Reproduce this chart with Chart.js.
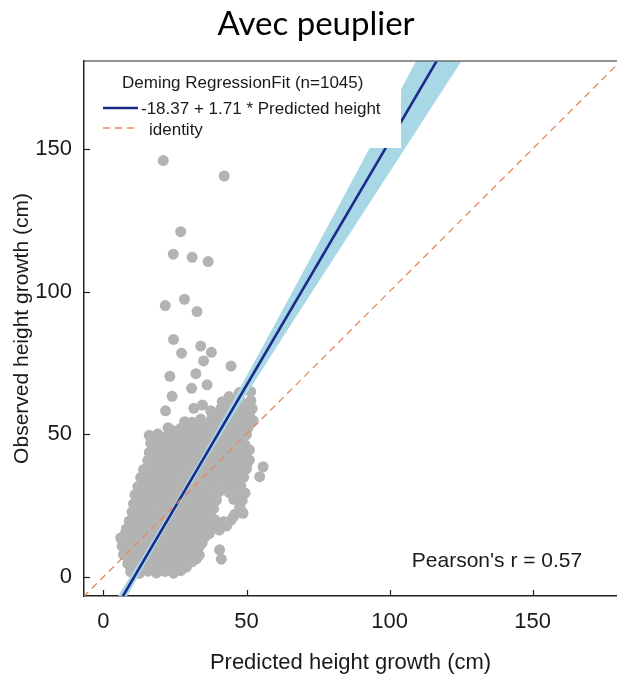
<!DOCTYPE html>
<html><head><meta charset="utf-8">
<script src="https://cdn.jsdelivr.net/npm/chart.js@4.4.1/dist/chart.umd.min.js"></script>
<style>html,body{margin:0;padding:0;background:#fff;}#wrap{width:617px;height:677px;position:relative;}</style>
</head><body><div id="wrap"><canvas id="c" width="617" height="677"></canvas></div>
<script>
// ---------- text ----------
const titleText = 'Avec peuplier';
const legendTitle = 'Deming RegressionFit (n=1045)';
const fitLabel = '-18.37 + 1.71 * Predicted height';
const identityLabel = 'identity';
const pearsonLabel = "Pearson's r = 0.57";
const xTitle = 'Predicted height growth (cm)';
const yTitle = 'Observed height growth (cm)';

// ---------- axes ----------
const xTicks = [0, 50, 100, 150];
const yTicks = [0, 50, 100, 150];
const xRange = [-6.8, 179.5];
const yRange = [-6.7, 180.8];

// ---------- fit ----------
const fitIntercept = -18.37;
const fitSlope = 1.71;
const fitX = [-10, 130];
const identityX = [-10, 190];

// confidence band
const bandX     = [4, 15, 25, 35, 45, 55, 65, 80, 100, 120, 135];
const bandLower = [-14.5, 5.3, 22.8, 39.7, 56.0, 71.9, 87.6, 110.9, 141.8, 172.8, 196.0];
const bandUpper = [-8.5, 9.3, 26.0, 43.3, 61.2, 79.5, 98.0, 125.9, 163.4, 200.8, 229.0];

// ---------- observations (predicted, observed) ----------
const predicted = [
 9.5,12.5,15.5,18.5,21.5,24.5,27,
 8.5,10.5,13.5,16.5,19.5,22.5,25.5,28.5,31,
 7,10,13,16,19,22,25,28,31,33.5,41.2,40.6,
 6.5,9.5,12.5,15.5,18.5,21.5,24.5,27.5,30.5,33.5,
 6,9,12,15,18,21,24,27,30,33,35.5,
 8,11,14,17,20,23,26,29,32,35,38,40.5,
 9,12,15,18,21,24,27,30,33,36,39,42,44.5,
 10,13,16,19,22,25,28,31,34,37,46,48.8,
 10.5,13.5,16.5,19.5,22.5,25.5,28.5,31.5,34.5,37.5,47.6,
 11,14,17,20,23,26,29,32,35,38,44,47,49.5,
 12,15,18,21,24,27,30,33,36,39,42,45,48,
 13,16,19,22,25,28,31,34,37,40,43,46,49,54.6,
 14,17,20,23,26,29,32,35,38,41,44,47,50,55.8,
 15.5,18.5,21.5,24.5,27.5,30.5,33.5,36.5,39.5,42.5,45.5,48.5,51,
 16,19,22,25,28,31,34,37,40,43,46,49,51,
 16.5,19.5,22.5,25.5,28.5,31.5,34.5,37.5,40.5,43.5,46.5,49.5,
 16,19,22,25.5,29,32,35,38,41,44,47,50,
 22.6,27,30,33,36,39,42,45,48,50.5,
 28.4,34,38,41,44,47,50,52.3,
 37.5,41,44,47,50,52,
 41.5,45,48,51.5,
 47.5,51.5,
 11,14,17,20,23,26,29,
 9,12,15,18,21,24,27,30,32.5,
 8.5,11.5,14.5,17.5,20.5,23.5,26.5,29.5,32.5,
 7.5,10.5,13.5,16.5,19.5,22.5,25.5,28.5,31.5,34.5,
 7.5,10.5,13.5,16.5,19.5,22.5,25.5,28.5,31.5,34.5,37,
 9.5,12.5,15.5,18.5,21.5,24.5,27.5,30.5,33.5,36.5,39.5,43,
 10.5,13.5,16.5,19.5,22.5,25.5,28.5,31.5,34.5,37.5,45.5,
 11.5,14.5,17.5,20.5,23.5,26.5,29.5,32.5,35.5,38.5,48,
 12.5,15.5,18.5,21.5,24.5,27.5,30.5,33.5,36.5,39.5,45.5,48.5,
 13.5,16.5,19.5,22.5,25.5,28.5,31.5,34.5,37.5,40.5,43.5,46.5,
 14.5,17.5,20.5,23.5,26.5,29.5,32.5,35.5,38.5,41.5,44.5,47.5,
 15.5,18.5,21.5,24.5,27.5,30.5,33.5,36.5,39.5,42.5,45.5,48.5,
 17,20,23,26,29,32,35,38,41,44,47,50,
 17.5,20.5,23.5,26.5,29.5,32.5,35.5,38.5,41.5,44.5,47.5,50,
 18,21,24,27,30,33,36,39,42,45,48,
 18,21,24,27,30,33,36,39,42,45,48,
 24.5,28.5,31.5,34.5,37.5,40.5,43.5,46.5,49.5,
 31,36,39.5,42.5,45.5,48.5,51,
 39.5,42.5,45.5,48.5,51,
 43,46.5,50,
 20.9,42.2,27.0,24.4,31.0,36.6,28.3,21.6,32.7,24.5,34.0,27.3,37.7,35.0,44.6,23.2,32.3,30.8,36.2,24.0,43.9,21.7,31.6,34.6
];
const observed = [
 1.8,1.2,2.0,1.4,1.9,1.3,2.2,
 4.6,4.0,5.0,4.3,4.8,4.1,5.1,4.4,5.3,
 7.8,7.2,8.0,7.4,7.9,7.1,8.1,7.5,8.2,7.6,6.2,9.5,
 10.8,10.2,11.0,10.4,10.9,10.1,11.1,10.5,11.2,10.6,
 13.6,13.1,14.0,13.3,13.9,13.2,14.1,13.4,14.2,13.5,14.0,
 16.8,16.2,17.0,16.4,16.9,16.1,17.1,16.5,17.2,16.6,17.0,16.4,
 19.6,19.1,20.0,19.3,19.9,19.2,20.1,19.4,20.2,19.5,20.0,19.3,19.8,
 22.8,22.2,23.0,22.4,22.9,22.1,23.1,22.5,23.2,22.6,22.0,22.3,
 25.6,25.1,26.0,25.3,25.9,25.2,26.1,25.4,26.2,25.5,24.6,
 28.8,28.2,29.0,28.4,28.9,28.1,29.1,28.5,29.2,28.6,29.5,28.8,29.4,
 31.6,31.1,32.0,31.3,31.9,31.2,32.1,31.4,32.2,31.5,32.0,31.3,31.9,
 34.8,34.2,35.0,34.4,34.9,34.1,35.1,34.5,35.2,34.6,35.0,34.3,34.9,35.1,
 37.6,37.1,38.0,37.3,37.9,37.2,38.1,37.4,38.2,37.5,38.0,37.3,37.9,38.6,
 40.8,40.2,41.0,40.4,40.9,40.1,41.1,40.5,41.2,40.6,41.0,40.3,40.9,
 43.6,43.1,44.0,43.3,43.9,43.2,44.1,43.4,44.2,43.5,44.0,43.3,44.5,
 46.8,46.2,47.0,46.4,46.9,46.1,47.1,46.5,47.2,46.6,47.0,46.3,
 49.6,50.1,49.2,49.9,49.3,50.2,49.5,50.1,49.4,50.0,49.3,49.9,
 52.3,52.0,52.8,52.2,52.9,52.3,53.0,52.4,52.9,52.2,
 54.4,55.3,55.8,55.2,55.9,55.3,55.8,54.8,
 58.2,58.8,58.3,58.9,58.4,59.0,
 61.4,61.9,61.3,61.8,
 64.6,64.9,
 3.1,2.8,3.3,2.9,3.2,2.7,3.4,
 6.2,5.8,6.3,5.9,6.1,5.7,6.4,6.0,6.3,
 9.1,8.8,9.3,8.9,9.2,8.7,9.4,9.0,9.3,
 12.2,11.8,12.3,11.9,12.1,11.7,12.4,12.0,12.3,11.9,
 15.1,14.8,15.3,14.9,15.2,14.7,15.4,15.0,15.3,14.9,15.2,
 18.2,17.8,18.3,17.9,18.1,17.7,18.4,18.0,18.3,17.9,18.2,17.8,
 21.1,20.8,21.3,20.9,21.2,20.7,21.4,21.0,21.3,20.9,21.2,
 24.2,23.8,24.3,23.9,24.1,23.7,24.4,24.0,24.3,23.9,23.6,
 27.1,26.8,27.3,26.9,27.2,26.7,27.4,27.0,27.3,26.9,27.2,26.8,
 30.2,29.8,30.3,29.9,30.1,29.7,30.4,30.0,30.3,29.9,30.2,29.8,
 33.1,32.8,33.3,32.9,33.2,32.7,33.4,33.0,33.3,32.9,33.2,32.8,
 36.2,35.8,36.3,35.9,36.1,35.7,36.4,36.0,36.3,35.9,36.2,35.8,
 39.1,38.8,39.3,38.9,39.2,38.7,39.4,39.0,39.3,38.9,39.2,38.8,
 42.2,41.8,42.3,41.9,42.1,41.7,42.4,42.0,42.3,41.9,42.2,41.8,
 45.1,44.8,45.3,44.9,45.2,44.7,45.4,45.0,45.3,44.9,45.2,
 48.2,47.8,48.3,47.9,48.1,47.7,48.4,48.0,48.3,47.9,48.2,
 51.1,50.8,51.3,50.9,51.2,50.7,51.4,51.0,51.3,
 54.2,53.8,54.3,53.9,54.1,53.7,54.4,
 57.1,56.8,57.3,56.9,57.2,
 60.2,59.8,60.3,
 145.9,140.5,121.0,113.1,112.0,110.5,97.3,95.1,93.0,83.2,80.9,78.4,78.7,75.7,73.9,70.3,71.2,66.1,67.3,63.3,63.2,58.2,59.1,60.2
];

// ---------- colours ----------
const pointColor = '#b3b3b3';
const fitColor = '#1c2a88';
const bandColor = '#a8d8e6';
const identityColor = '#e6885c';
const textColor = '#1a1a1a';
const FONT = "'Liberation Sans', Arial, sans-serif";

// ---------- build ----------
const pts = predicted.map((x, i) => ({x: x, y: observed[i]}));
const lowerPts = bandX.map((x, i) => ({x: x, y: bandLower[i]}));
const upperPts = bandX.map((x, i) => ({x: x, y: bandUpper[i]}));
const fitPts = fitX.map(x => ({x: x, y: fitIntercept + fitSlope * x}));
const idPts = identityX.map(x => ({x: x, y: x}));

const decor = {
  id: 'decor',
  afterDatasetsDraw(chart) {
    const ctx = chart.ctx;
    const ca = chart.chartArea;
    ctx.save();
    // legend box
    ctx.fillStyle = '#fff';
    ctx.fillRect(ca.left + 1, ca.top + 1, 316, 86);
    ctx.fillStyle = textColor;
    ctx.textBaseline = 'alphabetic';
    ctx.textAlign = 'left';
    ctx.font = '17px ' + FONT;
    ctx.fillText(legendTitle, 122, 88);
    ctx.fillText(fitLabel, 141, 114);
    ctx.fillText(identityLabel, 149, 135);
    ctx.strokeStyle = fitColor;
    ctx.lineWidth = 2.5;
    ctx.beginPath(); ctx.moveTo(103, 108); ctx.lineTo(138, 108); ctx.stroke();
    ctx.strokeStyle = identityColor;
    ctx.lineWidth = 1.3;
    ctx.setLineDash([7, 5]);
    ctx.beginPath(); ctx.moveTo(103, 128); ctx.lineTo(138, 128); ctx.stroke();
    ctx.setLineDash([]);
    // pearson label
    ctx.font = '21px ' + FONT;
    ctx.textAlign = 'center';
    ctx.fillStyle = textColor;
    ctx.fillText(pearsonLabel, 497, 567);
    // inward tick marks
    const xs = chart.scales.x, ys = chart.scales.y;
    ctx.strokeStyle = '#222';
    ctx.lineWidth = 1.2;
    xTicks.forEach(v => {
      const p = Math.round(xs.getPixelForValue(v)) + 0.5;
      ctx.beginPath(); ctx.moveTo(p, ca.bottom); ctx.lineTo(p, ca.bottom - 6); ctx.stroke();
    });
    yTicks.forEach(v => {
      const p = Math.round(ys.getPixelForValue(v)) + 0.5;
      ctx.beginPath(); ctx.moveTo(ca.left, p); ctx.lineTo(ca.left + 6, p); ctx.stroke();
    });
    // top frame line
    ctx.strokeStyle = '#6e6e6e';
    ctx.lineWidth = 1.5;
    ctx.beginPath(); ctx.moveTo(ca.left, ca.top); ctx.lineTo(ca.right, ca.top); ctx.stroke();
    // title
    ctx.fillStyle = '#000';
    ctx.font = "33px Lato, 'Open Sans', sans-serif";
    ctx.textAlign = 'center';
    ctx.fillText(titleText, 316, 35);
    ctx.restore();
  }
};

new Chart(document.getElementById('c'), {
  type: 'scatter',
  data: {
    datasets: [
      {label: 'obs', data: pts, pointRadius: 5.5, pointBackgroundColor: pointColor, pointBorderWidth: 0, pointBorderColor: pointColor, order: 10},
      {label: 'lower', data: lowerPts, showLine: true, pointRadius: 0, borderWidth: 0, borderColor: 'rgba(0,0,0,0)', fill: false, order: 5},
      {label: 'upper', data: upperPts, showLine: true, pointRadius: 0, borderWidth: 0, borderColor: 'rgba(0,0,0,0)', backgroundColor: bandColor, fill: '-1', order: 5},
      {label: 'fit', data: fitPts, showLine: true, pointRadius: 0, borderWidth: 2.6, borderColor: fitColor, order: 2},
      {label: 'identity', data: idPts, showLine: true, pointRadius: 0, borderWidth: 1.3, borderColor: identityColor, borderDash: [7, 5], order: 1}
    ]
  },
  options: {
    responsive: false,
    devicePixelRatio: 1,
    animation: false,
    events: [],
    layout: {autoPadding: false, padding: {top: 61, right: 0, left: 0, bottom: 0}},
    plugins: {legend: {display: false}, tooltip: {enabled: false}},
    scales: {
      x: {
        type: 'linear', min: xRange[0], max: xRange[1],
        afterBuildTicks: s => { s.ticks = xTicks.map(v => ({value: v})); },
        afterFit: s => { s.height = 81; s.paddingLeft = 0; s.paddingRight = 0; },
        grid: {display: true, drawOnChartArea: false, drawTicks: false},
        border: {display: true, color: '#222', width: 1.5},
        ticks: {padding: 13, color: textColor, font: {family: FONT, size: 22}},
        title: {display: true, text: xTitle, color: textColor, font: {family: FONT, size: 22}, padding: {top: 0, bottom: 1}}
      },
      y: {
        type: 'linear', min: yRange[0], max: yRange[1],
        afterBuildTicks: s => { s.ticks = yTicks.map(v => ({value: v})); },
        afterFit: s => { s.width = 84; s.paddingTop = 0; s.paddingBottom = 0; },
        grid: {display: true, drawOnChartArea: false, drawTicks: false},
        border: {display: true, color: '#222', width: 1.5},
        ticks: {padding: 12, color: textColor, font: {family: FONT, size: 22}},
        title: {display: true, text: yTitle, color: textColor, font: {family: FONT, size: 21}, padding: {top: 10, bottom: 0}}
      }
    }
  },
  plugins: [decor]
});
</script>
</body></html>
